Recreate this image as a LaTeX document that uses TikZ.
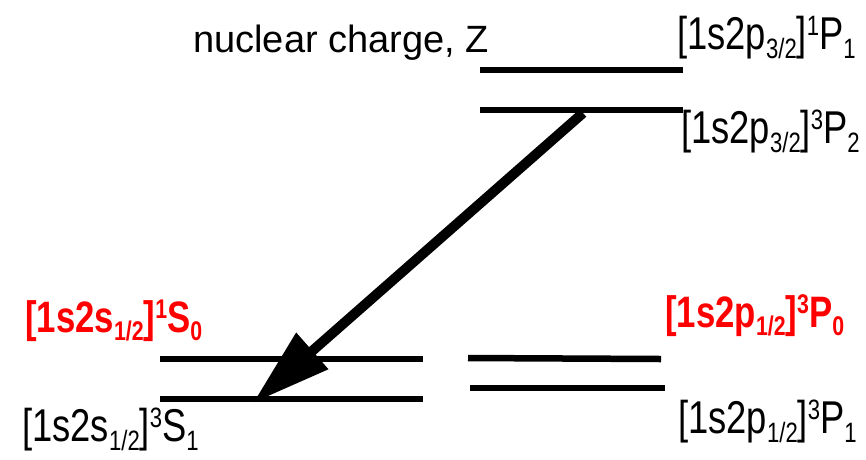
\documentclass[tikz,border=0pt]{standalone}
\usepackage{fontspec}
\setmainfont{Liberation Sans}
\newfontfamily\narrowfont[FakeStretch=0.79]{Liberation Sans}
\usetikzlibrary{arrows.meta}
\definecolor{lvred}{RGB}{255,0,0}
\def\subsz{28}
\newcommand\levlo[1]{\raisebox{-0.2em}{\fontsize{\subsz}{\subsz}\selectfont #1}}
\newcommand\levhi[1]{\raisebox{0.3em}{\fontsize{\subsz}{\subsz}\selectfont #1}}
\tikzset{
  level/.style={line width=6.5pt},
  lab/.style={inner sep=0pt, anchor=base west, font=\narrowfont\fontsize{46}{46}\selectfont},
  redlab/.style={inner sep=0pt, anchor=base west, text=lvred, font=\narrowfont\bfseries\fontsize{44}{44}\selectfont\def\subsz{27}},
  trans/.style={line width=10pt, -{Triangle[length=79pt,width=46pt]}}
}
\begin{document}
\begin{tikzpicture}[x=1pt,y=-1pt]
\useasboundingbox (0,0) rectangle (866,459);
% levels
\coordinate (a1) at (480,70);  \coordinate (a2) at (683,70);
\coordinate (b1) at (480,110); \coordinate (b2) at (683,110);
\coordinate (c1) at (160,359); \coordinate (c2) at (423,359);
\coordinate (d1) at (160,399); \coordinate (d2) at (423,399);
\coordinate (e1) at (468,358); \coordinate (e2) at (661,359);
\coordinate (f1) at (470,388); \coordinate (f2) at (665,388);
\draw[level] (a1) -- (a2);
\draw[level] (b1) -- (b2);
\draw[level] (c1) -- (c2);
\draw[level] (d1) -- (d2);
\draw[level] (e1) -- (e2);
\draw[level] (f1) -- (f2);
% transition
\coordinate (s) at (583,113);
\coordinate (t) at (253,403);
\draw[trans] (s) -- (t);
% labels
\node[inner sep=0pt, anchor=base west, font=\fontsize{38}{38}\selectfont] (nz) at (193,52) {nuclear charge, Z};
\node[lab] (l1) at (677,49) {[1s2p\levlo{3/2}]\levhi{1}P\levlo{1}};
\node[lab] (l2) at (681,143) {[1s2p\levlo{3/2}]\levhi{3}P\levlo{2}};
\node[redlab] (l3) at (25,332) {[1s2s\levlo{1/2}]\levhi{1}S\levlo{0}};
\node[redlab] (l4) at (665,327) {[1s2p\levlo{1/2}]\levhi{3}P\levlo{0}};
\node[lab] (l5) at (22,441) {[1s2s\levlo{1/2}]\levhi{3}S\levlo{1}};
\node[lab] (l6) at (678,433) {[1s2p\levlo{1/2}]\levhi{3}P\levlo{1}};
\end{tikzpicture}
\end{document}
